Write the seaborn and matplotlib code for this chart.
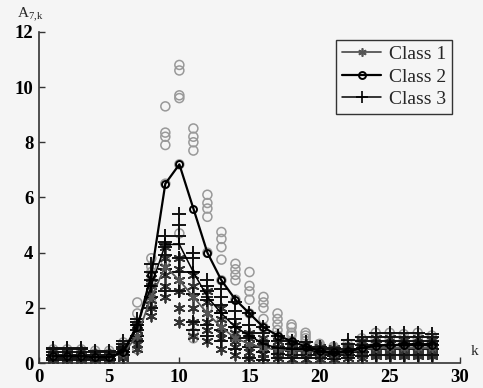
import numpy as np
import pandas as pd
import seaborn as sns
import matplotlib.pyplot as plt
from matplotlib.lines import Line2D

# ---------------- data ----------------
k = list(range(1, 29))

mean_c1 = [0.25, 0.25, 0.25, 0.22, 0.22, 0.35, 1.0, 2.4, 3.5, 3.0, 2.4, 1.8, 1.3, 0.9,
           0.7, 0.55, 0.5, 0.45, 0.45, 0.38, 0.35, 0.4, 0.5, 0.55, 0.55, 0.55, 0.55, 0.55]
mean_c2 = [0.25, 0.25, 0.25, 0.22, 0.22, 0.4, 1.3, 3.2, 6.5, 7.2, 5.6, 4.0, 3.0, 2.3,
           1.8, 1.3, 1.0, 0.8, 0.6, 0.45, 0.4, 0.45, 0.55, 0.62, 0.65, 0.65, 0.65, 0.65]
mean_c3 = [0.25, 0.25, 0.25, 0.22, 0.22, 0.45, 1.4, 2.8, 4.3, 4.3, 3.3, 2.4, 1.8, 1.3,
           1.0, 0.7, 0.55, 0.5, 0.5, 0.4, 0.35, 0.4, 0.55, 0.65, 0.65, 0.7, 0.7, 0.7]

# individual samples per k (class 1 = stars)
samp_c1 = [
    [0.1, 0.2, 0.25, 0.3, 0.35, 0.45], [0.1, 0.2, 0.25, 0.3, 0.35, 0.4],
    [0.1, 0.2, 0.25, 0.3, 0.35, 0.45], [0.1, 0.15, 0.2, 0.25, 0.3, 0.35],
    [0.1, 0.15, 0.2, 0.25, 0.3, 0.35], [0.2, 0.25, 0.3, 0.4, 0.5, 0.6],
    [0.5, 0.7, 0.9, 1.0, 1.2, 1.4], [1.7, 2.0, 2.3, 2.5, 2.8, 3.1],
    [2.4, 2.8, 3.2, 3.5, 3.8, 4.2], [1.5, 2.0, 2.6, 3.0, 3.4, 3.8],
    [1.0, 1.5, 2.0, 2.4, 2.8, 3.2], [0.8, 1.2, 1.5, 1.8, 2.2, 2.6],
    [0.5, 0.9, 1.1, 1.3, 1.6, 2.0], [0.3, 0.6, 0.8, 0.9, 1.1, 1.4],
    [0.2, 0.4, 0.6, 0.7, 0.9, 1.1], [0.2, 0.35, 0.5, 0.55, 0.7, 0.9],
    [0.2, 0.3, 0.45, 0.5, 0.6, 0.8], [0.15, 0.3, 0.4, 0.45, 0.55, 0.7],
    [0.15, 0.3, 0.4, 0.45, 0.55, 0.7], [0.15, 0.25, 0.35, 0.4, 0.45, 0.6],
    [0.15, 0.25, 0.3, 0.35, 0.45, 0.55], [0.2, 0.3, 0.35, 0.4, 0.5, 0.6],
    [0.2, 0.3, 0.45, 0.5, 0.6, 0.8], [0.25, 0.35, 0.5, 0.55, 0.7, 0.9],
    [0.25, 0.35, 0.5, 0.55, 0.7, 0.9], [0.25, 0.35, 0.45, 0.55, 0.7, 0.85],
    [0.25, 0.35, 0.5, 0.55, 0.7, 0.9], [0.25, 0.35, 0.45, 0.55, 0.7, 0.85],
]
# class 2 = open circles
samp_c2 = [
    [0.1, 0.2, 0.25, 0.3, 0.4, 0.5], [0.1, 0.2, 0.25, 0.3, 0.4, 0.5],
    [0.1, 0.2, 0.25, 0.3, 0.4, 0.5], [0.1, 0.15, 0.2, 0.3, 0.35, 0.45],
    [0.1, 0.15, 0.2, 0.3, 0.35, 0.45], [0.25, 0.35, 0.4, 0.5, 0.6, 0.75],
    [0.5, 0.8, 1.1, 1.4, 1.8, 2.2], [2.2, 2.6, 3.0, 3.3, 3.5, 3.8],
    [3.7, 6.5, 7.9, 8.2, 8.35, 9.3], [4.7, 7.2, 9.6, 9.7, 10.6, 10.8],
    [0.9, 1.1, 7.7, 8.0, 8.2, 8.5], [2.0, 4.0, 5.3, 5.6, 5.8, 6.1],
    [1.5, 3.0, 3.75, 4.2, 4.5, 4.75], [1.2, 2.3, 3.0, 3.2, 3.4, 3.6],
    [1.0, 1.8, 2.3, 2.6, 2.8, 3.3], [0.8, 1.3, 1.6, 2.0, 2.2, 2.4],
    [0.6, 1.0, 1.2, 1.4, 1.6, 1.8], [0.5, 0.8, 1.0, 1.1, 1.3, 1.4],
    [0.4, 0.6, 0.8, 0.9, 1.0, 1.1], [0.3, 0.45, 0.55, 0.6, 0.65, 0.7],
    [0.3, 0.4, 0.45, 0.5, 0.55, 0.6], [0.3, 0.4, 0.45, 0.5, 0.6, 0.7],
    [0.3, 0.45, 0.55, 0.65, 0.75, 0.9], [0.3, 0.5, 0.6, 0.75, 0.9, 1.1],
    [0.3, 0.5, 0.6, 0.75, 0.9, 1.1], [0.3, 0.5, 0.6, 0.75, 0.9, 1.05],
    [0.3, 0.5, 0.6, 0.75, 0.9, 1.1], [0.3, 0.5, 0.6, 0.75, 0.9, 1.0],
]
# class 3 = plus
samp_c3 = [
    [0.1, 0.2, 0.3, 0.4, 0.5, 0.55], [0.1, 0.2, 0.3, 0.4, 0.5, 0.55],
    [0.1, 0.2, 0.3, 0.4, 0.5, 0.55], [0.1, 0.15, 0.25, 0.3, 0.4, 0.45],
    [0.1, 0.15, 0.25, 0.3, 0.4, 0.45], [0.3, 0.4, 0.5, 0.6, 0.7, 0.8],
    [0.8, 1.0, 1.2, 1.4, 1.5, 1.6], [2.0, 2.4, 2.8, 3.0, 3.3, 3.6],
    [2.6, 3.4, 3.9, 4.2, 4.4, 4.6], [2.6, 3.3, 3.8, 4.6, 5.0, 5.4],
    [1.2, 1.5, 2.5, 3.3, 3.8, 4.0], [1.0, 1.4, 2.3, 2.6, 2.8, 3.0],
    [0.8, 1.2, 1.8, 2.1, 2.4, 2.7], [0.5, 0.9, 1.3, 1.6, 1.9, 2.2],
    [0.2, 0.6, 0.9, 1.1, 1.4, 1.8], [0.1, 0.4, 0.6, 0.8, 1.1, 1.3],
    [0.2, 0.35, 0.5, 0.6, 0.8, 1.0], [0.2, 0.3, 0.45, 0.55, 0.7, 0.8],
    [0.2, 0.3, 0.45, 0.5, 0.6, 0.75], [0.2, 0.3, 0.35, 0.4, 0.5, 0.6],
    [0.15, 0.25, 0.3, 0.4, 0.5, 0.55], [0.2, 0.3, 0.4, 0.5, 0.7, 0.85],
    [0.25, 0.4, 0.5, 0.65, 0.8, 0.95], [0.3, 0.5, 0.65, 0.8, 0.95, 1.1],
    [0.3, 0.5, 0.65, 0.8, 0.95, 1.1], [0.3, 0.5, 0.65, 0.8, 0.95, 1.1],
    [0.3, 0.5, 0.65, 0.8, 0.95, 1.1], [0.3, 0.5, 0.65, 0.8, 0.95, 1.05],
]

labels = ['Class 1', 'Class 2', 'Class 3']
x_ticks = [0, 5, 10, 15, 20, 25, 30]
y_ticks = [0, 2, 4, 6, 8, 10, 12]


def long_df(samples):
    rows = [(kk, v) for kk, vals in zip(k, samples) for v in vals]
    return pd.DataFrame(rows, columns=['k', 'A'])


# ---------------- plot ----------------
sns.set_style('ticks')
plt.rcParams['font.family'] = ['Liberation Serif', 'DejaVu Serif']
bg = '#f5f5f5'

fig = plt.figure(figsize=(4.83, 3.88), dpi=100, facecolor=bg)
ax = fig.add_axes([0.081, 0.064, 0.871, 0.854], facecolor=bg)

sns.scatterplot(data=long_df(samp_c2), x='k', y='A', ax=ax, marker='o', s=42,
                facecolor='none', edgecolor='#999999', linewidth=1.1, legend=False)
sns.scatterplot(data=long_df(samp_c1), x='k', y='A', ax=ax, marker=(6, 2, 0), s=55,
                color='#333333', linewidth=1.3, legend=False)
sns.scatterplot(data=long_df(samp_c3), x='k', y='A', ax=ax, marker='+', s=90,
                color='#111111', linewidth=1.4, legend=False)

# style of the three mean curves
styles = [
    dict(color='#555555', lw=1.3, marker=(6, 2, 0), ms=6, mew=1.2, mec='#555555'),
    dict(color='black', lw=1.6, marker='o', ms=5, mew=1.4, mfc='none', mec='black'),
    dict(color='black', lw=1.1, marker='+', ms=9, mew=1.2, mec='black'),
]
for means, st in zip([mean_c1, mean_c2, mean_c3], styles):
    sns.lineplot(x=k, y=means, ax=ax, linestyle='-', **st)

ax.set_xlim(0, 30)
ax.set_ylim(0, 12)
ax.set_xticks(x_ticks)
ax.set_yticks(y_ticks)
ax.set_xticklabels([str(t) for t in x_ticks], fontweight='bold', fontsize=13.5)
ax.set_yticklabels([str(t) for t in y_ticks], fontweight='bold', fontsize=13.5)
ax.tick_params(direction='in', length=4, width=1, colors='#333333', labelcolor='black', pad=4)
ax.set_xlabel('')
ax.set_ylabel('')
sns.despine(ax=ax)
for sp in ['left', 'bottom']:
    ax.spines[sp].set_color('#333333')
    ax.spines[sp].set_linewidth(1.2)

fig.text(0.035, 0.955, r'A$_{\mathregular{7{,}k}}$', fontsize=11)
fig.text(0.975, 0.085, 'k', fontsize=11)

handles = [Line2D([0], [0], linestyle='-', **st) for st in styles]
leg = ax.legend(handles, labels, loc='upper right', fontsize=14, frameon=True, fancybox=False,
                edgecolor='#333333', facecolor=bg, framealpha=1, borderaxespad=0.4,
                labelspacing=0.25, handlelength=2.0, handletextpad=0.4, borderpad=0.3)
leg.get_frame().set_linewidth(1.0)

fig.savefig('out.png', dpi=100, facecolor=bg)
